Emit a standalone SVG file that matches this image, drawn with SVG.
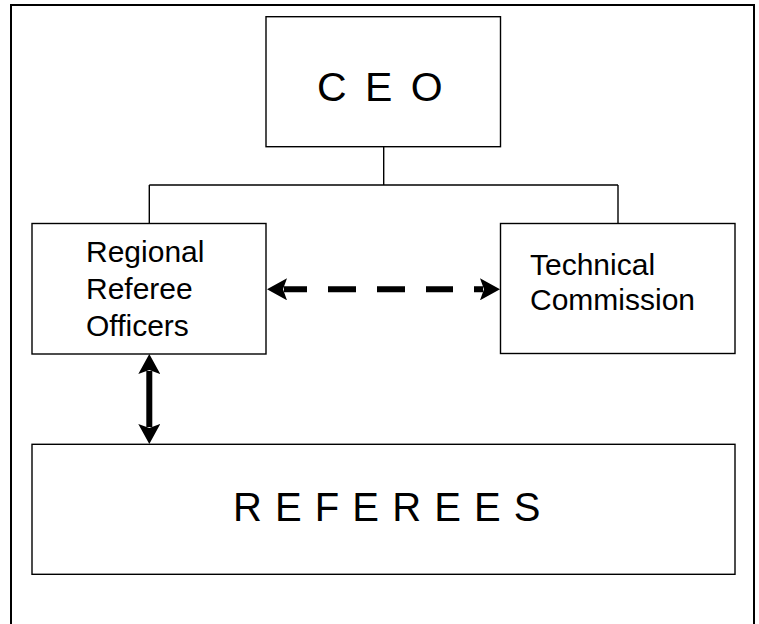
<svg xmlns="http://www.w3.org/2000/svg" width="759" height="624" viewBox="0 0 759 624">
<style>
.box{fill:#fff;stroke:#000;stroke-width:1.4}
.t{font-family:"Liberation Sans",Arial,sans-serif;fill:#000}
.s{font-size:30px}
.conn{stroke:#000;stroke-width:1.4;fill:none}
.thick{stroke:#000;stroke-width:6;fill:none}
</style>
<defs>
<marker id="ah" viewBox="0 0 20 22" refX="3" refY="11" markerWidth="20" markerHeight="22" markerUnits="userSpaceOnUse" orient="auto-start-reverse">
<path d="M20,11 L0,0 L4,11 L0,22 Z" fill="#000"/>
</marker>
</defs>
<rect x="11" y="5" width="743" height="640" fill="#fff" stroke="#000" stroke-width="2"/>
<g id="connectors">
<line class="conn" x1="383.7" y1="147" x2="383.7" y2="185"/>
<line class="conn" x1="149.3" y1="185" x2="618" y2="185"/>
<line class="conn" x1="149.3" y1="185" x2="149.3" y2="223.5"/>
<line class="conn" x1="618" y1="185" x2="618" y2="223.5"/>
<line class="thick" x1="284" y1="289.3" x2="483" y2="289.3" stroke-dasharray="23 21 28 21 28 21 27 21 11" marker-start="url(#ah)" marker-end="url(#ah)"/>
<line class="thick" x1="149.3" y1="371" x2="149.3" y2="427" marker-start="url(#ah)" marker-end="url(#ah)"/>
</g>
<g id="ceo">
<rect class="box" x="266" y="16.7" width="234.5" height="130"/>
<text class="t" x="317" y="101" font-size="41" letter-spacing="3.5">C E O</text>
</g>
<g id="regional">
<rect class="box" x="32" y="223.5" width="234" height="130.5"/>
<text class="t s" x="86" y="262">Regional</text>
<text class="t s" x="86" y="298.5">Referee</text>
<text class="t s" x="86" y="336">Officers</text>
</g>
<g id="technical">
<rect class="box" x="500.5" y="223.5" width="234.5" height="130"/>
<text class="t s" x="530" y="275">Technical</text>
<text class="t s" x="530" y="309.5">Commission</text>
</g>
<g id="referees">
<rect class="box" x="32" y="444.3" width="703" height="130"/>
<text class="t" x="233" y="520.7" font-size="40" letter-spacing="1">R E F E R E E S</text>
</g>
</svg>
